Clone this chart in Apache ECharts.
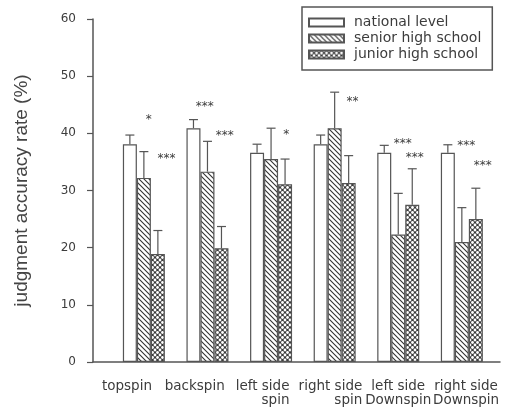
<!DOCTYPE html>
<html>
<head>
<meta charset="utf-8">
<script src="https://cdn.jsdelivr.net/npm/echarts@6/dist/echarts.min.js"></script>
<style>
  html, body { margin: 0; padding: 0; background: #fff; }
  #chart { width: 518px; height: 410px; }
</style>
</head>
<body>
<div id="chart"></div>
<script>
// Judgment accuracy by spin type for three player groups (mean and SD, %)
const categories = ['topspin', 'backspin', 'left side\nspin', 'right side\nspin', 'left side\nDownspin', 'right side\nDownspin'];
const groupNames = ['national level', 'senior high school', 'junior high school'];
const nationalMean = [38.1, 40.9, 36.6, 38.1, 36.6, 36.6];
const nationalSD   = [1.6, 1.5, 1.5, 1.6, 1.3, 1.4];
const seniorMean   = [32.2, 33.3, 35.5, 40.9, 22.3, 21.0];
const seniorSD     = [4.6, 5.3, 5.4, 6.3, 7.2, 6.0];
const juniorMean   = [18.9, 19.9, 31.1, 31.3, 27.5, 25.0];
const juniorSD     = [4.1, 3.8, 4.4, 4.8, 6.3, 5.4];
const yTicks = [0, 10, 20, 30, 40, 50, 60];
// significance marks: category index, shift within the group (category units), height (%), text
const sigMarks = [
  [0, 0.075, 42.9, '*'],   [0, 0.354, 36.1, '***'],
  [1, -0.044, 45.2, '***'], [1, 0.27, 40.1, '***'],
  [2, 0.24, 40.3, '*'],
  [3, 0.28, 46.0, '**'],
  [4, 0.07, 38.6, '***'],  [4, 0.26, 36.2, '***'],
  [5, 0.07, 38.3, '***'],  [5, 0.33, 34.8, '***']
];

const INK = '#3c3c3c';
const AXIS = '#555';
const FONT = 'DejaVu Sans';
const BAR_W = 14;
const CAP_W = 9;

function hatchPattern() {
  const s = 5;
  const c = document.createElement('canvas');
  c.width = c.height = s;
  const g = c.getContext('2d');
  g.fillStyle = '#fff';
  g.fillRect(0, 0, s, s);
  g.strokeStyle = '#333';
  g.lineWidth = 1.1;
  g.beginPath();
  g.moveTo(-1, -1); g.lineTo(s + 1, s + 1);
  g.moveTo(-1, s - 1); g.lineTo(1, s + 1);
  g.moveTo(s - 1, -1); g.lineTo(s + 1, 1);
  g.stroke();
  return { image: c, repeat: 'repeat' };
}

function meshPattern() {
  const s = 5;
  const c = document.createElement('canvas');
  c.width = c.height = s;
  const g = c.getContext('2d');
  g.fillStyle = '#3a3a3a';
  g.fillRect(0, 0, s, s);
  g.fillStyle = '#fff';
  [[0, 0], [s, 0], [0, s], [s, s], [s / 2, s / 2]].forEach(([x, y]) => {
    g.beginPath();
    g.arc(x, y, 1.4, 0, Math.PI * 2);
    g.fill();
  });
  return { image: c, repeat: 'repeat' };
}

const fills = ['#ffffff', hatchPattern(), meshPattern()];
const means = [nationalMean, seniorMean, juniorMean];
const sds = [nationalSD, seniorSD, juniorSD];

const barSeries = groupNames.map((name, k) => ({
  name: name,
  type: 'bar',
  xAxisIndex: 1,
  barWidth: BAR_W,
  barGap: '0%',
  itemStyle: { color: fills[k], borderColor: AXIS, borderWidth: 1.2 },
  data: means[k].map((v, i) => [i + 1, v]),
  z: 2
}));

const errorSeries = groupNames.map((name, k) => ({
  type: 'custom',
  xAxisIndex: 1,
  z: 3,
  silent: true,
  data: means[k].map((v, i) => [i + 1, v, sds[k][i]]),
  renderItem: function (params, api) {
    const x = api.value(0), m = api.value(1), e = api.value(2);
    const base = api.coord([x, m]);
    const top = api.coord([x, m + e]);
    const px = base[0] + (k - 1) * BAR_W;
    const style = { stroke: AXIS, lineWidth: 1.2 };
    return {
      type: 'group',
      children: [
        { type: 'line', shape: { x1: px, y1: base[1], x2: px, y2: top[1] }, style: style },
        { type: 'line', shape: { x1: px - CAP_W / 2, y1: top[1], x2: px + CAP_W / 2, y2: top[1] }, style: style }
      ]
    };
  }
}));

const sigSeries = {
  type: 'custom',
  xAxisIndex: 1,
  z: 4,
  silent: true,
  data: sigMarks.map(d => [d[0] + 1 + d[1], d[2], d[3]]),
  renderItem: function (params, api) {
    const p = api.coord([api.value(0), api.value(1)]);
    return {
      type: 'text',
      x: p[0],
      y: p[1] + 3,
      style: {
        text: sigMarks[params.dataIndex][3],
        fill: INK,
        font: '12px "' + FONT + '"',
        align: 'center',
        verticalAlign: 'middle'
      }
    };
  }
};

const chart = echarts.init(document.getElementById('chart'), null, { renderer: 'canvas' });
chart.setOption({
  backgroundColor: '#fff',
  animation: false,
  grid: { left: 93, right: 18, top: 19, bottom: 48, containLabel: false },
  legend: {
    data: groupNames,
    orient: 'vertical',
    left: 302,
    top: 7,
    icon: 'rect',
    itemWidth: 35,
    itemHeight: 8,
    itemGap: 2,
    padding: [8.5, 11, 8.5, 6],
    borderColor: AXIS,
    borderWidth: 1.5,
    textStyle: { fontFamily: FONT, fontSize: 14, color: INK, padding: [0, 0, 0, 5] }
  },
  xAxis: [
    {
      type: 'category',
      data: categories,
      boundaryGap: true,
      position: 'bottom',
      axisLine: { show: true, lineStyle: { color: AXIS, width: 1.5 } },
      axisTick: { show: false },
      splitLine: { show: false },
      axisLabel: {
        interval: 0,
        margin: 17,
        color: INK,
        fontFamily: FONT,
        fontSize: 13.5,
        lineHeight: 14.5,
        formatter: function (v) {
          const lines = v.split('\n');
          return lines.length > 1 ? '{a|' + lines[0] + '}\n{b|' + lines[1] + '}' : '{a|' + lines[0] + '}';
        },
        rich: {
          a: { fontFamily: FONT, fontSize: 13.5, lineHeight: 14.5, color: INK },
          b: { fontFamily: FONT, fontSize: 13.5, lineHeight: 14.5, color: INK, align: 'right' }
        }
      }
    },
    {
      type: 'value',
      min: 0.2,
      max: 6.6,
      show: false,
      position: 'top',
      splitLine: { show: false }
    }
  ],
  yAxis: {
    type: 'value',
    min: yTicks[0],
    max: yTicks[yTicks.length - 1],
    interval: 10,
    name: 'judgment accuracy rate (%)',
    nameLocation: 'middle',
    nameGap: 62,
    nameTextStyle: { fontFamily: 'Liberation Sans', fontSize: 19, color: '#444' },
    axisLine: { show: true, lineStyle: { color: AXIS, width: 1.5 } },
    axisTick: { show: true, inside: false, length: 6, lineStyle: { color: AXIS, width: 1.2 } },
    axisLabel: { margin: 17, color: INK, fontFamily: FONT, fontSize: 12 },
    splitLine: { show: false }
  },
  series: barSeries.concat(errorSeries, [sigSeries])
});
</script>
</body>
</html>
